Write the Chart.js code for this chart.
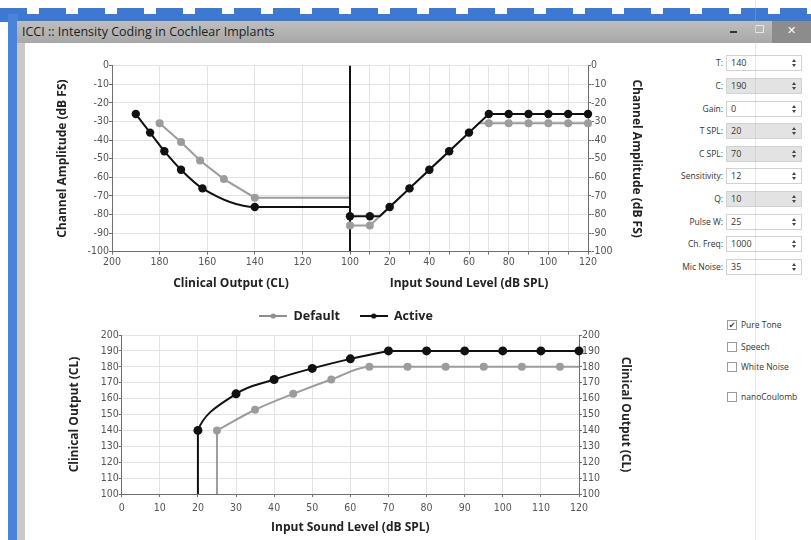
<!DOCTYPE html>
<html><head><meta charset="utf-8">
<script src="https://cdn.jsdelivr.net/npm/chart.js@4.4.0/dist/chart.umd.min.js"></script>
<style>
html,body{margin:0;padding:0;}
body{width:811px;height:540px;overflow:hidden;position:relative;background:#fff;font-family:'Open Sans',sans-serif;}
.a{position:absolute;}
#crenel{left:0;top:8px;width:811px;height:6px;background:repeating-linear-gradient(90deg,#3d78d2 0 27px,#fff 27px 39px);}
#band{left:0;top:14px;width:811px;height:8px;background:#3d78d2;}
#lstrip{left:8px;top:14px;width:10px;height:526px;background:#4a84d8;}
#frame{left:17px;top:21px;width:794px;height:519px;background:#cac8c4;}
#titlebar{left:17px;top:21px;width:794px;height:22px;background:linear-gradient(#bebebe,#a8a8a8);}
#title{left:22px;top:22px;font-size:12.5px;line-height:20px;color:#1c1c1c;white-space:nowrap;}
#minb{left:730px;top:31px;width:7px;height:2px;background:#333;}
#maxb{left:755px;top:25px;width:7px;height:6px;border:1px solid #e8e8e8;}
#closeb{left:772px;top:21px;width:39px;height:22px;background:#8c8c8c;color:#fff;text-align:center;font:bold 11px/20px 'DejaVu Sans',sans-serif;}
#content{left:25px;top:43px;width:786px;height:497px;background:#fff;}
#vline{left:755px;top:0;width:1px;height:540px;background:rgba(160,180,220,0.35);}
.plab{position:absolute;right:88px;font-size:8.5px;line-height:14px;color:#333;white-space:nowrap;}
.pbox{position:absolute;left:726px;width:76px;height:16px;border:1px solid #d2d2d2;background:#fff;box-sizing:border-box;}
.pbox.sh{background:#e3e3e3;}
.pval{position:absolute;left:4px;top:0;font-size:9px;line-height:14px;color:#333;}
.spin{position:absolute;left:65px;top:3px;width:5px;height:8px;}
.up{position:absolute;top:0;left:0;width:0;height:0;border-left:2.5px solid transparent;border-right:2.5px solid transparent;border-bottom:3px solid #444;}
.dn{position:absolute;bottom:0;left:0;width:0;height:0;border-left:2.5px solid transparent;border-right:2.5px solid transparent;border-top:3px solid #444;}
.cbox{position:absolute;left:727px;width:10px;height:10px;border:1px solid #9a9a9a;box-sizing:border-box;background:#fff;font:8px/9px 'DejaVu Sans',sans-serif;color:#333;text-align:center;}
.clab{position:absolute;left:741px;font-size:8.5px;line-height:12px;color:#333;white-space:nowrap;}
.cv{position:absolute;}
</style>
</head><body>
<div id="crenel" class="a"></div>
<div id="band" class="a"></div>
<div id="lstrip" class="a"></div>
<div id="frame" class="a"></div>
<div id="titlebar" class="a"></div>
<div id="title" class="a">ICCI :: Intensity Coding in Cochlear Implants</div>
<div id="minb" class="a"></div>
<div id="maxb" class="a"></div>
<div id="closeb" class="a">✕</div>
<div id="content" class="a"></div>
<div id="panel"></div>
<div class="cv" style="left:20px;top:50px;"><canvas id="cA" width="350" height="250"></canvas></div>
<div class="cv" style="left:330px;top:50px;"><canvas id="cB" width="330" height="250"></canvas></div>
<div class="cv" style="left:40px;top:290px;"><canvas id="cC" width="612" height="250"></canvas></div>
<div id="vline" class="a"></div>
<script>
// ---------- data ----------
// Top-left: Channel Amplitude vs Clinical Output
const tlDefaultX = [180, 171, 163, 153, 140, 100];
const tlDefaultY = [-31, -41, -51, -61, -71, -71];
const tlActiveX  = [190, 184, 178, 171, 162, 140, 100];
const tlActiveY  = [-26, -36, -46, -56, -66, -76, -76];
// Top-right: Channel Amplitude vs Input Sound Level
const trDefaultX = [0, 10, 20, 30, 40, 50, 60, 65, 70, 80, 90, 100, 110, 120];
const trDefaultY = [-86, -86, -76, -66, -56, -46, -36, -31, -31, -31, -31, -31, -31, -31];
const trActiveX  = [0, 10, 15, 20, 30, 40, 50, 60, 70, 80, 90, 100, 110, 120];
const trActiveY  = [-81, -81, -81, -76, -66, -56, -46, -36, -26, -26, -26, -26, -26, -26];
// Bottom: Clinical Output vs Input Sound Level
const btDefaultX = [25, 25, 35, 45, 55, 65, 75, 85, 95, 105, 115, 120];
const btDefaultY = [100, 140, 153, 163, 172, 180, 180, 180, 180, 180, 180, 180];
const btActiveX  = [20, 20, 30, 40, 50, 60, 70, 80, 90, 100, 110, 120];
const btActiveY  = [100, 140, 163, 172, 179, 185, 190, 190, 190, 190, 190, 190];
// Side panel
const panelLabels = ['T:', 'C:', 'Gain:', 'T SPL:', 'C SPL:', 'Sensitivity:', 'Q:', 'Pulse W:', 'Ch. Freq:', 'Mic Noise:'];
const panelValues = ['140', '190', '0', '20', '70', '12', '10', '25', '1000', '35'];
const panelShaded = [false, true, false, true, true, false, true, false, false, false];
const checkLabels = ['Pure Tone', 'Speech', 'White Noise', 'nanoCoulomb'];
const checkStates = [true, false, false, false];

// ---------- side panel ----------
const panel = document.getElementById('panel');
panelLabels.forEach((lab, i) => {
  const cy = 63.3 + i * 22.6;
  const l = document.createElement('div'); l.className = 'plab'; l.style.top = (cy - 7) + 'px'; l.textContent = lab; panel.appendChild(l);
  const b = document.createElement('div'); b.className = 'pbox' + (panelShaded[i] ? ' sh' : ''); b.style.top = (cy - 8) + 'px';
  b.innerHTML = '<span class="pval">' + panelValues[i] + '</span><span class="spin"><i class="up"></i><i class="dn"></i></span>';
  panel.appendChild(b);
});
const checkY = [325, 346.5, 366.5, 397];
checkLabels.forEach((lab, i) => {
  const c = document.createElement('div'); c.className = 'cbox'; c.style.top = (checkY[i] - 5) + 'px'; c.textContent = checkStates[i] ? '✔' : ''; panel.appendChild(c);
  const l = document.createElement('div'); l.className = 'clab'; l.style.top = (checkY[i] - 6) + 'px'; l.textContent = lab; panel.appendChild(l);
});

// ---------- charts ----------
const TICKFONT = {family: "'Liberation Sans Narrow', 'DejaVu Sans Condensed', Roboto, sans-serif", size: 10.5};
const TITLEFONT = {family: "'Open Sans', sans-serif", size: 12, weight: 'bold'};
const GRID = '#e3e3e3', AXIS = '#6e6e6e', TICKC = '#555', TITLEC = '#222';
const BLACK = '#111111', GRAY = '#9c9c9c';
const pts = (xs, ys) => xs.map((x, i) => ({x: x, y: ys[i]}));
const fixW = w => s => { s.width = w; };
const fixH = h => s => { s.height = h; };
const radii = (n, r, zeroIdx) => Array.from({length: n}, (_, i) => zeroIdx.includes(i) ? 0 : r);

function axisCommon(extra) {
  return Object.assign({
    type: 'linear',
    grid: {color: GRID, tickColor: AXIS, tickLength: 3, drawTicks: true},
    border: {color: AXIS, width: 1},
  }, extra);
}
const baseOpts = {responsive: false, animation: false, events: []};

// Chart A (top-left)
new Chart(document.getElementById('cA'), {
  type: 'line',
  data: {datasets: [
    {label: 'Active', data: pts(tlActiveX, tlActiveY), borderColor: BLACK, backgroundColor: BLACK, borderWidth: 2,
     pointRadius: radii(tlActiveX.length, 4.2, [tlActiveX.length - 1]), pointBorderWidth: 0, cubicInterpolationMode: 'monotone', clip: false},
    {label: 'Default', data: pts(tlDefaultX, tlDefaultY), borderColor: GRAY, backgroundColor: GRAY, borderWidth: 2,
     pointRadius: radii(tlDefaultX.length, 4, [tlDefaultX.length - 1]), pointBorderWidth: 0, tension: 0, clip: false}
  ]},
  options: Object.assign({}, baseOpts, {
    layout: {padding: {left: 0, right: 20, top: 15.7, bottom: 0}},
    plugins: {legend: {display: false}, tooltip: {enabled: false}},
    scales: {
      x: axisCommon({position: 'bottom', reverse: true, min: 100, max: 200,
        ticks: {stepSize: 20, font: TICKFONT, color: TICKC, padding: 1.1, maxRotation: 0, autoSkip: false},
        title: {display: true, text: 'Clinical Output (CL)', font: TITLEFONT, color: TITLEC, padding: {top: 0, bottom: 8.8}},
        afterFit: fixH(48.4)}),
      y: axisCommon({position: 'left', min: -100, max: 0,
        ticks: {stepSize: 10, font: TICKFONT, color: TICKC, padding: 0, autoSkip: false},
        title: {display: true, text: 'Channel Amplitude (dB FS)', font: TITLEFONT, color: TITLEC, padding: {top: 35.8, bottom: 0}},
        afterFit: fixW(92)})
    }
  })
});

// Chart B (top-right)
new Chart(document.getElementById('cB'), {
  type: 'line',
  data: {datasets: [
    {label: 'Active', data: pts(trActiveX, trActiveY), borderColor: BLACK, backgroundColor: BLACK, borderWidth: 2,
     pointRadius: radii(trActiveX.length, 4.2, [2]), pointBorderWidth: 0, tension: 0, clip: false},
    {label: 'Default', data: pts(trDefaultX, trDefaultY), borderColor: GRAY, backgroundColor: GRAY, borderWidth: 2,
     pointRadius: radii(trDefaultX.length, 4, [7]), pointBorderWidth: 0, tension: 0, clip: false}
  ]},
  options: Object.assign({}, baseOpts, {
    layout: {padding: {left: 20, right: 0, top: 15.7, bottom: 0}},
    plugins: {legend: {display: false}, tooltip: {enabled: false}},
    scales: {
      x: axisCommon({position: 'bottom', min: 0, max: 120,
        ticks: {stepSize: 10, font: TICKFONT, color: TICKC, padding: 1.1, maxRotation: 0, autoSkip: false,
          callback: v => (v !== 0 && v % 20 === 0) ? String(v) : ''},
        grid: {z: -1, color: c => (c.tick && c.tick.value === 0) ? '#111' : GRID,
               lineWidth: c => (c.tick && c.tick.value === 0) ? 2 : 1,
               tickColor: c => (c.tick && c.tick.value === 0) ? 'rgba(0,0,0,0)' : AXIS, tickLength: 3},
        title: {display: true, text: 'Input Sound Level (dB SPL)', font: TITLEFONT, color: TITLEC, padding: {top: 0, bottom: 8.8}},
        afterFit: fixH(48.4)}),
      y: axisCommon({position: 'right', min: -100, max: 0,
        grid: {z: -2, color: GRID, tickColor: AXIS, tickLength: 3},
        ticks: {stepSize: 10, font: TICKFONT, color: TICKC, padding: 0, autoSkip: false},
        title: {display: true, text: 'Channel Amplitude (dB FS)', font: TITLEFONT, color: TITLEC, padding: {top: 16.8, bottom: 0}},
        afterFit: fixW(72)})
    }
  })
});

// Chart C (bottom)
function legendIcon(color) {
  const c = document.createElement('canvas'); c.width = 28; c.height = 8;
  const g = c.getContext('2d');
  g.strokeStyle = color; g.lineWidth = 2; g.beginPath(); g.moveTo(0, 4); g.lineTo(28, 4); g.stroke();
  g.fillStyle = color; g.beginPath(); g.arc(14, 4, 2.6, 0, Math.PI * 2); g.fill();
  return c;
}
const icons = {Default: legendIcon('#8f8f8f'), Active: legendIcon('#111')};
const LEGFONT = {family: "'Open Sans', sans-serif", size: 12.5, weight: 'bold'};
const KNEE = btActiveY.indexOf(190);   // where the active curve reaches its plateau
new Chart(document.getElementById('cC'), {
  type: 'line',
  data: {datasets: [
    {label: 'Active', data: pts(btActiveX.slice(0, KNEE + 1), btActiveY.slice(0, KNEE + 1)), borderColor: BLACK, backgroundColor: BLACK, borderWidth: 2,
     pointRadius: radii(KNEE + 1, 4.5, [0]), pointBorderWidth: 0, tension: 0.4, clip: false,
     segment: {borderColor: c => c.p0DataIndex === 0 ? 'rgba(0,0,0,0)' : BLACK}},
    {label: '_activeFlat', data: pts(btActiveX.slice(KNEE), btActiveY.slice(KNEE)), borderColor: BLACK, backgroundColor: BLACK, borderWidth: 2,
     pointRadius: radii(btActiveX.length - KNEE, 4.5, [0]), pointBorderWidth: 0, tension: 0, clip: false},
    {label: '_activeDrop', data: pts(btActiveX.slice(0, 2), btActiveY.slice(0, 2)), borderColor: BLACK, borderWidth: 2, pointRadius: 0, tension: 0},
    {label: 'Default', data: pts(btDefaultX.slice(1), btDefaultY.slice(1)), borderColor: GRAY, backgroundColor: GRAY, borderWidth: 2,
     pointRadius: radii(btDefaultX.length - 1, 4, [btDefaultX.length - 2]), pointBorderWidth: 0, cubicInterpolationMode: 'monotone', clip: false},
    {label: '_defaultDrop', data: pts(btDefaultX.slice(0, 2), btDefaultY.slice(0, 2)), borderColor: GRAY, borderWidth: 2, pointRadius: 0, tension: 0}
  ]},
  options: Object.assign({}, baseOpts, {
    layout: {padding: {left: 0, right: 0, top: 0, bottom: 0}},
    plugins: {
      tooltip: {enabled: false},
      legend: {display: true, position: 'top', align: 'center',
        labels: {usePointStyle: true, pointStyleWidth: 28, padding: 19.75, font: LEGFONT, color: '#222',
          generateLabels: chart => ['Default', 'Active'].map(name => {
            const i = chart.data.datasets.findIndex(d => d.label === name);
            return {text: name, pointStyle: icons[name], datasetIndex: i, hidden: false, fontColor: '#222',
                    lineWidth: 0, strokeStyle: 'rgba(0,0,0,0)', fillStyle: 'rgba(0,0,0,0)'};
          })}},
      subtitle: {display: true, text: '', weight: 500, font: {size: 1}, padding: {top: 0, bottom: 1.55}}
    },
    scales: {
      x: axisCommon({position: 'bottom', min: 0, max: 120,
        ticks: {stepSize: 10, font: TICKFONT, color: TICKC, padding: 4.7, maxRotation: 0, autoSkip: false},
        title: {display: true, text: 'Input Sound Level (dB SPL)', font: TITLEFONT, color: TITLEC, padding: {top: 0, bottom: 4.8}},
        afterFit: fixH(46)}),
      y: axisCommon({position: 'left', min: 100, max: 200,
        ticks: {stepSize: 10, font: TICKFONT, color: TICKC, padding: 0, autoSkip: false},
        title: {display: true, text: 'Clinical Output (CL)', font: TITLEFONT, color: TITLEC, padding: {top: 27.8, bottom: 0}},
        afterFit: fixW(81.7)}),
      y2: axisCommon({position: 'right', min: 100, max: 200,
        ticks: {stepSize: 10, font: TICKFONT, color: TICKC, padding: 0, autoSkip: false},
        grid: {drawOnChartArea: false, tickColor: AXIS, tickLength: 3},
        title: {display: true, text: 'Clinical Output (CL)', font: TITLEFONT, color: TITLEC, padding: {top: 19.8, bottom: 0}},
        afterFit: fixW(73)})
    }
  })
});
</script>
</body></html>
